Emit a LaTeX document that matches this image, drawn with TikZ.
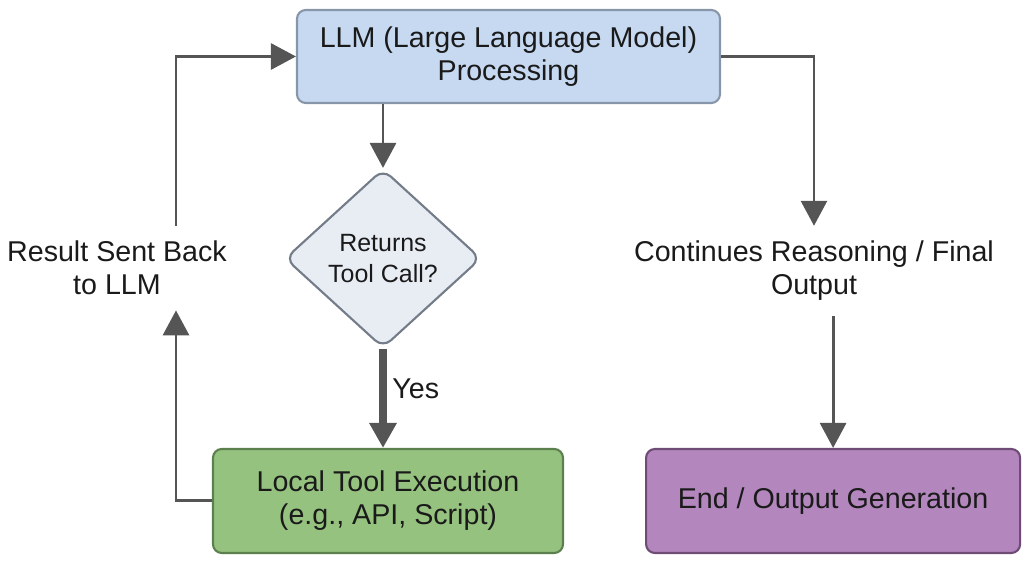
\documentclass[tikz,border=0pt]{standalone}
\usepackage{fontspec}
\setmainfont{Liberation Sans}
\usetikzlibrary{positioning, arrows.meta, shapes.geometric}
\definecolor{lfill}{HTML}{C6D9F1}
\definecolor{ldraw}{HTML}{8896AA}
\definecolor{dfill}{HTML}{E8EDF4}
\definecolor{ddraw}{HTML}{737C88}
\definecolor{efill}{HTML}{96C27F}
\definecolor{edraw}{HTML}{5C7F4E}
\definecolor{ofill}{HTML}{B387BE}
\definecolor{odraw}{HTML}{6E4C75}
\definecolor{linecol}{HTML}{555555}
\definecolor{txtcol}{HTML}{1A1A1A}

\begin{document}
\begin{tikzpicture}[
    block/.style={rectangle, draw, rounded corners=5pt, align=center, text=txtcol, font=\fontsize{16.3}{18.8}\selectfont, line width=1.2pt},
    decision/.style={diamond, draw, rounded corners=6pt, inner sep=0pt, minimum width=3.92cm, minimum height=3.58cm, align=center, text=txtcol, font=\fontsize{14.2}{17.5}\selectfont, line width=1.2pt},
    arr/.style={-{Triangle[length=0.5cm, width=0.52cm]}, line width=1.7pt, draw=linecol},
    lbl/.style={font=\fontsize{16.3}{18.8}\selectfont, align=center, text=txtcol, inner ysep=0.3cm},
  ]
    \useasboundingbox (0,0) rectangle (20.48,-11.3);

    \node[block, fill=lfill, draw=ldraw, minimum width=8.46cm, minimum height=1.86cm] (llm) at (10.17,-1.13) {LLM (Large Language Model)\\Processing};
    \node[decision, fill=dfill, draw=ddraw] (check) at (7.66,-5.17) {Returns\\Tool Call?};
    \node[block, fill=efill, draw=edraw, minimum width=7cm, minimum height=2.08cm] (exec) at (7.76,-10.02) {Local Tool Execution\\(e.g., API, Script)};
    \node[block, fill=ofill, draw=odraw, minimum width=7.48cm, minimum height=2.08cm, right=1.62cm of exec] (endout) {End / Output Generation};

    \node[lbl] (result) at (2.34,-5.36) {Result Sent Back\\to LLM};
    \node[lbl] (cont) at (16.28,-5.42) {Continues Reasoning / Final\\Output};
    \coordinate (loopx) at (3.52,0);

    \draw[arr] (check.north |- llm.south) -- (check.north);
    \draw[arr, line width=4pt] (check.south) -- node[right, lbl, pos=0.4, inner ysep=0pt] {Yes} (check.south |- exec.north);
    \draw[arr] (exec.west) -| (loopx |- result.south);
    \draw[arr] (loopx |- result.north) |- (llm.west);
    \draw[arr] (llm.east) -| (cont.north);
    \draw[arr] (endout.north |- cont.south) -- (endout.north);
  \end{tikzpicture}
\end{document}
